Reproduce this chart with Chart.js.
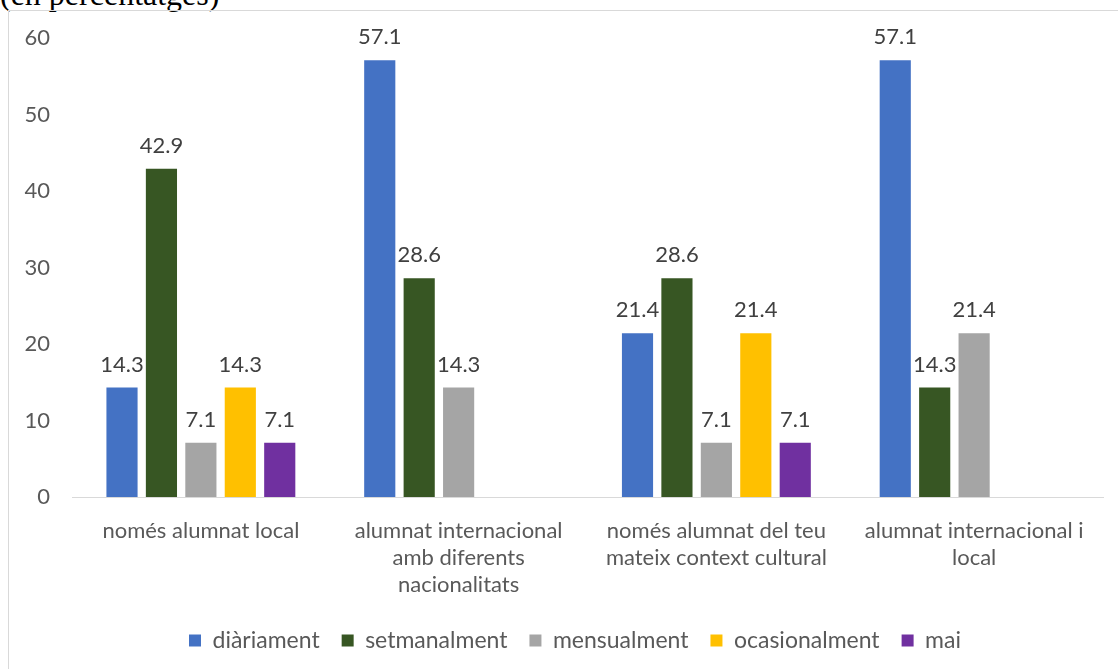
<!DOCTYPE html>
<html>
<head>
<meta charset="utf-8">
<script src="https://cdn.jsdelivr.net/npm/chart.js@4"></script>
<style>
  body { margin: 0; background: #fff; overflow: hidden; }
  #titol { position: absolute; left: 0; top: -22px; font: 32px "Liberation Serif", serif; line-height: 32px; color: #000; white-space: nowrap; }
  #marc { position: absolute; left: 8px; top: 10px; width: 1120px; height: 670px; border: 1px solid #d9d9d9; }
  #myChart { position: absolute; left: 0; top: 0; }
</style>
</head>
<body>
<div id="titol">(en percentatges)</div>
<div id="marc"><canvas id="myChart" width="1109" height="658"></canvas></div>
<script>
const categories = [
    ['només alumnat local'],
    ['alumnat internacional', 'amb diferents', 'nacionalitats'],
    ['només alumnat del teu', 'mateix context cultural'],
    ['alumnat internacional i', 'local']
];
const series = ['diàriament', 'setmanalment', 'mensualment', 'ocasionalment', 'mai'];
const diariament = [14.3, 57.1, 21.4, 57.1];
const setmanalment = [42.9, 28.6, 28.6, 14.3];
const mensualment = [7.1, 14.3, 7.1, 21.4];
const ocasionalment = [14.3, null, 21.4, null];
const mai = [7.1, null, 7.1, null];
const colors = ['#4472C4', '#375623', '#A5A5A5', '#FFC000', '#7030A0'];

const textFont = 'Lato, "Open Sans", sans-serif';

const valueLabels = {
    id: 'valueLabels',
    afterDatasetsDraw(chart){
        const ctx = chart.ctx;
        ctx.save();
        ctx.font = '22px ' + textFont;
        ctx.fillStyle = '#404040';
        ctx.textAlign = 'center';
        ctx.textBaseline = 'middle';
        chart.data.datasets.forEach((ds, i) => {
            chart.getDatasetMeta(i).data.forEach((bar, j) => {
                if (ds.data[j] == null) return;
                ctx.fillText(ds.data[j].toFixed(1), bar.x, bar.y - 23);
            });
        });
        ctx.restore();
    }
};

// legend sits a little right of the canvas centre in the original
const legendShift = {
    id: 'legendShift',
    afterLayout(chart){
        chart.legend.left += 19;
        chart.legend.right += 19;
    }
};

const allData = [diariament, setmanalment, mensualment, ocasionalment, mai];

const ctx = document.getElementById('myChart');
const myChart = new Chart(ctx, {
    type: 'bar',
    data: {
        labels: categories,
        datasets: series.map((name, i) => ({
            label: name,
            data: allData[i],
            backgroundColor: colors[i],
            borderWidth: 0,
            categoryPercentage: 0.765,
            barPercentage: 0.79
        }))
    },
    options: {
        responsive: false,
        animation: false,
        layout: { padding: { left: 0, right: 15, top: 27, bottom: 7 } },
        plugins: {
            legend: {
                position: 'bottom',
                labels: {
                    boxWidth: 12,
                    boxHeight: 12,
                    padding: 22,
                    color: '#595959',
                    font: { family: textFont, size: 23 }
                }
            },
            tooltip: { enabled: false }
        },
        scales: {
            x: {
                grid: { display: false, drawTicks: false },
                border: { display: true, color: '#d9d9d9', width: 1 },
                ticks: {
                    color: '#595959',
                    padding: 20,
                    maxRotation: 0,
                    autoSkip: false,
                    font: { family: textFont, size: 22, lineHeight: 1.23 }
                },
                afterFit(scale){ scale.height = 110; }
            },
            y: {
                min: 0,
                max: 60,
                grid: { display: false, drawTicks: false },
                border: { display: false },
                ticks: {
                    stepSize: 10,
                    color: '#595959',
                    padding: 22,
                    font: { family: textFont, size: 22 }
                },
                afterFit(scale){
                    scale.width = 63;
                    scale.paddingTop = 0;
                    scale.paddingBottom = 0;
                }
            }
        }
    },
    plugins: [valueLabels, legendShift]
});
</script>
</body>
</html>
